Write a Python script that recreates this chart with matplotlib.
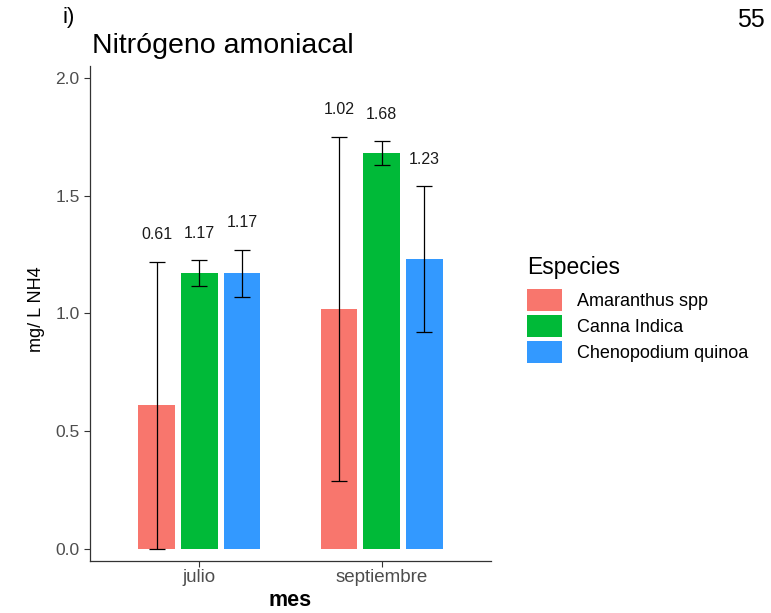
import matplotlib
matplotlib.use("Agg")
import matplotlib.pyplot as plt
from matplotlib.patches import Patch
import numpy as np

plt.rcParams['font.family'] = ['Liberation Sans', 'DejaVu Sans']

meses = ["julio", "septiembre"]
especies = ["Amaranthus spp", "Canna Indica", "Chenopodium quinoa"]
colores = ["#F8766D", "#00BA38", "#3399FF"]
medias = {
    "Amaranthus spp": [0.61, 1.02],
    "Canna Indica": [1.17, 1.68],
    "Chenopodium quinoa": [1.17, 1.23],
}
desv = {
    "Amaranthus spp": [0.61, 0.73],
    "Canna Indica": [0.055, 0.05],
    "Chenopodium quinoa": [0.10, 0.31],
}
etiquetas = {
    "Amaranthus spp": ["0.61", "1.02"],
    "Canna Indica": ["1.17", "1.68"],
    "Chenopodium quinoa": ["1.17", "1.23"],
}

W, H = 771, 613
fig = plt.figure(figsize=(W / 100, H / 100), dpi=100)
ax = fig.add_axes([90 / W, (H - 561) / H, (491 - 90) / W, (561 - 66) / H])

x = np.arange(1, len(meses) + 1)
offsets = [-0.235, 0.0, 0.235]
bw = 0.2
for i, sp in enumerate(especies):
    pos = x + offsets[i]
    ax.bar(pos, medias[sp], width=bw, color=colores[i], zorder=2)
    ax.errorbar(pos, medias[sp], yerr=desv[sp], fmt="none", ecolor="black",
                elinewidth=0.9, capsize=6, capthick=0.9, zorder=3)
    for p, m, s, t in zip(pos, medias[sp], desv[sp], etiquetas[sp]):
        ax.text(p, m + s + 0.115, t, ha="center", va="center",
                fontsize=11.5, color="#1a1a1a")

ax.set_xlim(0.4, 2.6)
ax.set_ylim(-0.05, 2.05)
ax.set_xticks(x)
ax.set_xticklabels(meses, fontsize=13.5, color="#4D4D4D")
ax.set_yticks([0.0, 0.5, 1.0, 1.5, 2.0])
ax.set_yticklabels(["0.0", "0.5", "1.0", "1.5", "2.0"], fontsize=12.5, color="#4D4D4D")
ax.tick_params(axis="both", length=4, width=0.8, color="#333333")
ax.tick_params(axis="x", pad=2)
for s in ["top", "right"]:
    ax.spines[s].set_visible(False)
for s in ["left", "bottom"]:
    ax.spines[s].set_color("#333333")
    ax.spines[s].set_linewidth(0.9)

ax.set_xlabel("mes", fontsize=15.5, fontweight="bold")
ax.xaxis.set_label_coords(0.5, -(600 - 561) / (561 - 66))
ax.xaxis.label.set_va("center")
ax.set_ylabel("mg/ L NH4", fontsize=13)
ax.yaxis.set_label_coords(-(90 - 37) / (491 - 90), (561 - 309) / (561 - 66))
ax.yaxis.label.set_va("center")

fig.text(92 / W, 1 - 53 / H, "Nitrógeno amoniacal", fontsize=20.5, va="baseline", ha="left")
fig.text(62 / W, 1 - 23 / H, "i)", fontsize=16, va="baseline", ha="left")
fig.text(765 / W, 1 - 27 / H, "55", fontsize=18, va="baseline", ha="right")

handles = [Patch(facecolor=c, edgecolor="none") for c in colores]
leg = fig.legend(handles, especies, title="Especies", loc="upper left",
                 bbox_to_anchor=(527 / W, 1 - 256 / H), frameon=False,
                 fontsize=13, title_fontsize=16.5, handlelength=1.94,
                 handleheight=1.5, labelspacing=0.22, handletextpad=0.83,
                 borderpad=0, borderaxespad=0)
leg._legend_box.align = "left"
leg._legend_box.sep = 7

fig.savefig("out.png", dpi=100)
